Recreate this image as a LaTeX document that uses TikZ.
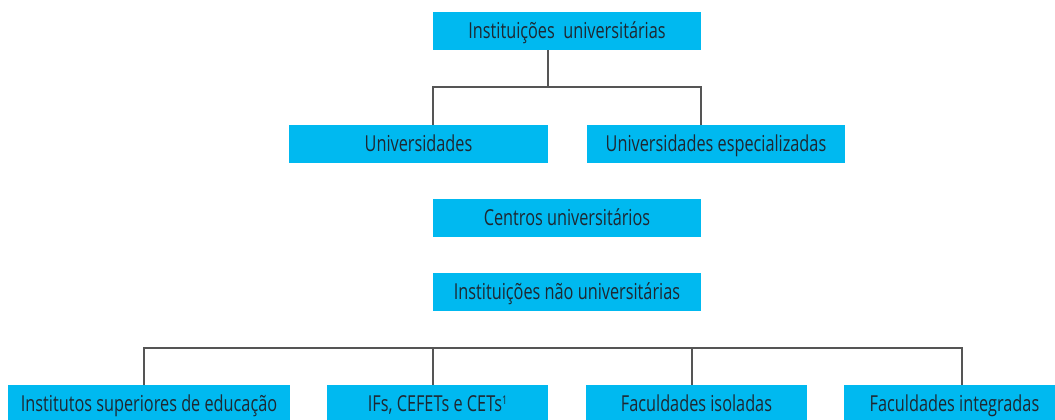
\documentclass[tikz,border=0pt]{standalone}
\usepackage{fontspec}
\setmainfont{Open Sans}[FakeStretch=0.74]
\usepackage{tikz}
\usetikzlibrary{positioning}
\definecolor{boxcyan}{RGB}{0,185,240}
\definecolor{boxtext}{RGB}{30,40,50}
\definecolor{linegray}{RGB}{85,85,85}

\begin{document}
\begin{tikzpicture}[
	x=0.5pt, y=-0.5pt,
	node distance = 18pt and 19pt,
	line/.style = {draw=linegray, line width=0.7pt},
	box/.style = {rectangle, fill=#1, text=boxtext, inner sep=0pt, outer sep=0pt,
		minimum width=134pt, minimum height=19pt, text height=7.85pt, text depth=0pt,
		font=\fontsize{11}{13}\selectfont},
	box/.default = boxcyan
	]
	\useasboundingbox (0,0) rectangle (1055,419);
	
	\node (inst) [box] at (567,31) {Instituições\ \ universitárias};
	\node (univ) [box, minimum width=129.5pt] at (418.5,143.5) {Universidades};
	\node (univesp) [box, minimum width=129pt] at (716,143.5) {Universidades especializadas};
	\node (centros) [box] at (567,218) {Centros universitários};
	\node (naouniv) [box, below=of centros] {Instituições não universitárias};
	\node (isup) [box, minimum width=141pt] at (149,404) {Institutos superiores de educação};
	\node (ifs) [box, minimum width=110.5pt] at (437.5,404) {IFs, CEFETs e CETs\raisebox{3.5pt}{\fontsize{6}{6}\selectfont 1}};
	\node (facis) [box, minimum width=110.5pt] at (696.5,404) {Faculdades isoladas};
	\node (facint) [box, minimum width=110.5pt] at (954.5,404) {Faculdades integradas};
	%
	\coordinate (top split) at (548,87);
	\coordinate (bot left) at (144,348);
	\coordinate (bot ifs) at (433,348);
	\coordinate (bot facis) at (692,348);
	\coordinate (bot right) at (962,348);
	%
	\draw[line] (inst.south -| top split) -- (top split);
	\draw[line] (univ.north -| inst.west) |- (top split) -| (univesp.north -| inst.east);
	\draw[line] (isup.north -| bot left) -- (bot left) -- (bot right) -- (facint.north -| bot right);
	\draw[line] (bot ifs) -- (ifs.north -| bot ifs);
	\draw[line] (bot facis) -- (facis.north -| bot facis);
\end{tikzpicture}
\end{document}
